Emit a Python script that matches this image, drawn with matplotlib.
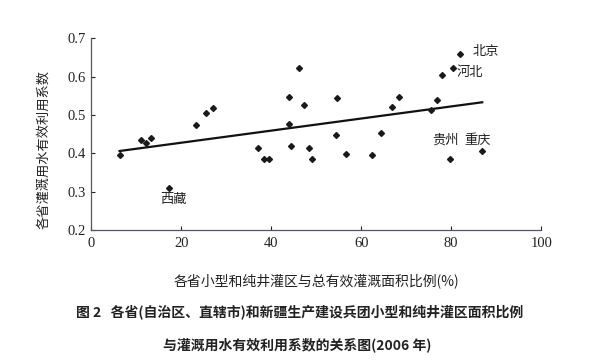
import numpy as np
import matplotlib
matplotlib.use("Agg")
import matplotlib.pyplot as plt

plt.rcParams['font.family'] = ['Liberation Serif', 'Noto Sans CJK SC', 'DejaVu Sans']
plt.rcParams['axes.unicode_minus'] = False

# Share of small and well irrigation areas (%) vs. irrigation water use coefficient
ratio = [6.5, 11.0, 12.2, 13.3, 17.3, 23.3, 25.5, 27.0, 37.0, 38.5, 39.6,
         43.9, 43.9, 44.4, 46.2, 47.3, 48.4, 49.0, 54.3, 54.6, 56.6, 62.3,
         64.4, 66.8, 68.5, 75.4, 76.9, 78.0, 80.4, 82.0, 79.8, 86.8]
coef = [0.395, 0.434, 0.428, 0.439, 0.310, 0.473, 0.504, 0.517, 0.415, 0.384, 0.384,
        0.546, 0.477, 0.420, 0.622, 0.526, 0.415, 0.386, 0.447, 0.545, 0.399, 0.395,
        0.453, 0.520, 0.546, 0.512, 0.539, 0.603, 0.621, 0.660, 0.386, 0.405]

# fitted trend line
fit_x = [6.3, 86.9]
fit_slope = 0.001576
fit_intercept = 0.396

# province labels
names = ["北京", "河北", "贵州", "重庆", "西藏"]
name_x = [87.7, 84.1, 78.7, 85.9, 18.3]
name_y = [0.664, 0.610, 0.434, 0.434, 0.280]

xticks = [0, 20, 40, 60, 80, 100]
yticks = [0.2, 0.3, 0.4, 0.5, 0.6, 0.7]

fig = plt.figure(figsize=(6, 3.6), dpi=100)
ax = fig.add_axes([0.152, 0.361, 0.75, 0.533])

ax.plot(ratio, coef, linestyle='none', marker='D', markersize=3.0,
        color='#1a1a1a', zorder=3)
fx = np.array(fit_x)
ax.plot(fx, fit_intercept + fit_slope * fx, color='#111111', lw=1.6, zorder=2)

cjk = ['Noto Sans CJK SC', 'DejaVu Sans']
for n, x, y in zip(names, name_x, name_y):
    ax.text(x, y, n, family=cjk, fontsize=9.5, ha='center', va='center', color='#222222')

ax.set_xlim(0, 100)
ax.set_ylim(0.2, 0.7)
ax.set_xticks(xticks)
ax.set_yticks(yticks)
ax.set_xticklabels([str(t) for t in xticks])
ax.set_yticklabels([f"{t:.1f}" for t in yticks])
ax.tick_params(direction='in', length=3, width=0.8, labelsize=10.5, colors='#222222')
ax.tick_params(axis='x', pad=5)
ax.tick_params(axis='y', pad=4)
for s in ['top', 'right']:
    ax.spines[s].set_visible(False)
for s in ['left', 'bottom']:
    ax.spines[s].set_color('#555566')
    ax.spines[s].set_linewidth(0.9)

ax.set_xlabel("各省小型和纯井灌区与总有效灌溉面积比例(%)", family=cjk,
              fontsize=10, labelpad=17, color='#222222')
ax.set_ylabel("各省灌溉用水有效利用系数", family=cjk, fontsize=9.5,
              color='#222222')
ax.yaxis.set_label_coords(-0.092, 0.42)

fig.text(0.5, 0.133, "图 2   各省(自治区、直辖市)和新疆生产建设兵团小型和纯井灌区面积比例",
         family=cjk, fontsize=10, fontweight='bold', ha='center', va='center', color='#222222')
fig.text(0.495, 0.042, "与灌溉用水有效利用系数的关系图(2006 年)",
         family=cjk, fontsize=10, fontweight='bold', ha='center', va='center', color='#222222')

fig.savefig("out.png", dpi=100)
